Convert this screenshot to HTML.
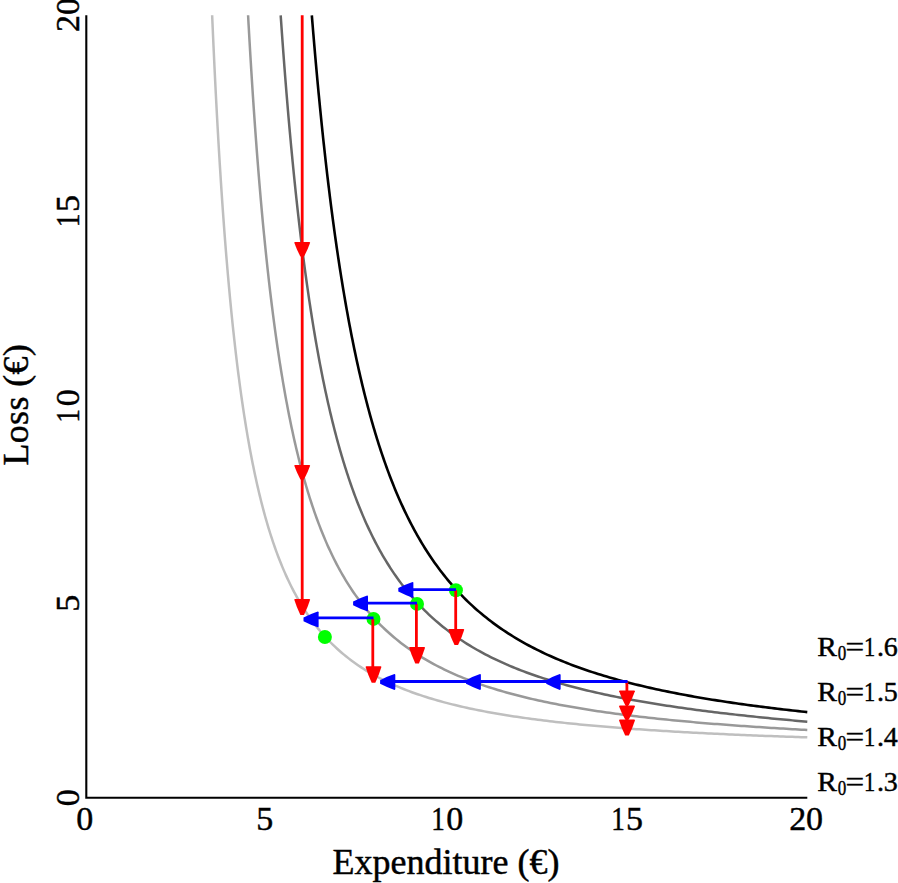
<!DOCTYPE html>
<html><head><meta charset="utf-8"><style>
html,body{margin:0;padding:0;background:#fff;}
body{width:898px;height:883px;overflow:hidden;font-family:"Liberation Serif",serif;}
svg{display:block;}
</style></head><body>
<svg width="898" height="883" viewBox="0 0 898 883">
<rect width="898" height="883" fill="#fff"/>
<polyline points="212.15,15.30 212.27,18.30 212.40,21.30 212.53,24.30 212.66,27.30 212.80,30.30 212.93,33.30 213.06,36.29 213.20,39.29 213.33,42.29 213.47,45.29 213.61,48.29 213.75,51.29 213.89,54.29 214.03,57.29 214.17,60.29 214.31,63.28 214.45,66.28 214.60,69.28 214.74,72.28 214.89,75.28 215.04,78.28 215.19,81.27 215.34,84.27 215.49,87.27 215.64,90.27 215.79,93.27 215.95,96.27 216.10,99.26 216.26,102.26 216.42,105.26 216.58,108.26 216.74,111.26 216.90,114.25 217.06,117.25 217.23,120.25 217.39,123.25 217.56,126.24 217.73,129.24 217.90,132.24 218.07,135.23 218.24,138.23 218.41,141.23 218.59,144.23 218.77,147.22 218.94,150.22 219.12,153.22 219.30,156.21 219.49,159.21 219.67,162.21 219.85,165.20 220.04,168.20 220.23,171.19 220.42,174.19 220.61,177.19 220.80,180.18 221.00,183.18 221.20,186.17 221.39,189.17 221.59,192.16 221.80,195.16 222.00,198.15 222.20,201.15 222.41,204.14 222.62,207.14 222.83,210.13 223.05,213.13 223.26,216.12 223.48,219.12 223.70,222.11 223.92,225.10 224.14,228.10 224.36,231.09 224.59,234.09 224.82,237.08 225.05,240.07 225.29,243.07 225.52,246.06 225.76,249.05 226.00,252.04 226.24,255.03 226.49,258.03 226.74,261.02 226.99,264.01 227.24,267.00 227.50,269.99 227.75,272.98 228.01,275.97 228.28,278.97 228.54,281.96 228.81,284.95 229.08,287.94 229.36,290.92 229.64,293.91 229.92,296.90 230.20,299.89 230.49,302.88 230.78,305.87 231.07,308.86 231.36,311.84 231.66,314.83 231.97,317.82 232.27,320.80 232.58,323.79 232.90,326.77 233.21,329.76 233.53,332.74 233.86,335.73 234.18,338.71 234.52,341.70 234.85,344.68 235.19,347.66 235.54,350.65 235.88,353.63 236.24,356.61 236.59,359.59 236.95,362.57 237.32,365.55 237.69,368.53 238.06,371.51 238.44,374.48 238.83,377.46 239.22,380.44 239.61,383.41 240.01,386.39 240.42,389.36 240.83,392.34 241.24,395.31 241.67,398.28 242.09,401.26 242.53,404.23 242.97,407.20 243.41,410.16 243.86,413.13 244.32,416.10 244.79,419.07 245.26,422.03 245.74,424.99 246.22,427.96 246.71,430.92 247.21,433.88 247.72,436.84 248.24,439.79 248.76,442.75 249.29,445.71 249.83,448.66 250.38,451.61 250.93,454.56 251.50,457.51 252.07,460.46 252.65,463.40 253.25,466.34 253.85,469.28 254.46,472.22 255.09,475.16 255.72,478.09 256.36,481.03 257.02,483.96 257.69,486.88 258.36,489.81 259.05,492.73 259.76,495.65 260.47,498.56 261.20,501.48 261.94,504.38 262.69,507.29 263.46,510.19 264.25,513.09 265.04,515.98 265.86,518.87 266.69,521.76 267.53,524.64 268.39,527.52 269.27,530.39 270.16,533.25 271.08,536.11 272.01,538.97 272.96,541.81 273.93,544.66 274.92,547.49 275.92,550.32 276.95,553.14 278.01,555.95 279.08,558.75 280.18,561.55 281.30,564.33 282.44,567.11 283.61,569.87 284.80,572.63 286.02,575.37 287.26,578.11 288.53,580.82 289.83,583.53 291.16,586.22 292.52,588.90 293.90,591.57 295.32,594.21 296.76,596.84 298.24,599.46 299.75,602.05 301.29,604.63 302.86,607.18 304.47,609.72 306.11,612.23 307.79,614.72 309.50,617.19 311.25,619.63 313.03,622.05 314.84,624.44 316.69,626.80 318.58,629.14 320.50,631.44 322.46,633.72 324.46,635.96 326.49,638.17 328.55,640.35 330.65,642.50 332.79,644.61 334.95,646.69 337.16,648.73 339.39,650.73 341.66,652.70 343.95,654.63 346.28,656.53 348.64,658.38 351.03,660.20 353.45,661.98 355.89,663.73 358.36,665.43 360.86,667.10 363.38,668.73 365.92,670.33 368.49,671.88 371.08,673.40 373.68,674.89 376.31,676.34 378.96,677.75 381.63,679.13 384.31,680.48 387.01,681.79 389.73,683.07 392.46,684.32 395.20,685.53 397.96,686.72 400.73,687.88 403.51,689.00 406.31,690.10 409.11,691.17 411.93,692.21 414.75,693.23 417.59,694.22 420.43,695.19 423.28,696.13 426.14,697.05 429.00,697.94 431.87,698.82 434.75,699.67 437.64,700.50 440.53,701.31 443.42,702.10 446.33,702.87 449.23,703.62 452.14,704.36 455.06,705.07 457.98,705.77 460.90,706.46 463.83,707.12 466.76,707.78 469.69,708.41 472.63,709.03 475.57,709.64 478.51,710.23 481.46,710.81 484.41,711.38 487.36,711.93 490.31,712.48 493.26,713.00 496.22,713.52 499.18,714.03 502.14,714.53 505.10,715.01 508.07,715.49 511.03,715.95 514.00,716.41 516.97,716.85 519.94,717.29 522.91,717.71 525.88,718.13 528.86,718.54 531.83,718.94 534.81,719.34 537.79,719.72 540.76,720.10 543.74,720.47 546.72,720.84 549.70,721.19 552.69,721.54 555.67,721.89 558.65,722.22 561.63,722.55 564.62,722.88 567.60,723.19 570.59,723.51 573.58,723.81 576.56,724.11 579.55,724.41 582.54,724.70 585.53,724.98 588.52,725.26 591.51,725.54 594.50,725.81 597.49,726.08 600.48,726.34 603.47,726.59 606.46,726.84 609.45,727.09 612.44,727.34 615.44,727.58 618.43,727.81 621.42,728.04 624.41,728.27 627.41,728.49 630.40,728.72 633.40,728.93 636.39,729.15 639.39,729.36 642.38,729.56 645.38,729.77 648.37,729.97 651.37,730.16 654.36,730.36 657.36,730.55 660.35,730.74 663.35,730.92 666.35,731.11 669.34,731.29 672.34,731.46 675.34,731.64 678.33,731.81 681.33,731.98 684.33,732.15 687.33,732.31 690.32,732.47 693.32,732.63 696.32,732.79 699.32,732.95 702.32,733.10 705.31,733.25 708.31,733.40 711.31,733.55 714.31,733.69 717.31,733.84 720.31,733.98 723.31,734.12 726.31,734.25 729.30,734.39 732.30,734.52 735.30,734.65 738.30,734.78 741.30,734.91 744.30,735.04 747.30,735.17 750.30,735.29 753.30,735.41 756.30,735.53 759.30,735.65 762.30,735.77 765.30,735.88 768.30,736.00 771.30,736.11 774.30,736.22 777.30,736.33 780.30,736.44 783.30,736.55 786.30,736.66 789.30,736.76 792.30,736.86 795.30,736.97 798.30,737.07 801.30,737.17 804.30,737.27 807.30,737.36" fill="none" stroke="#bfbfbf" stroke-width="2.5" stroke-linejoin="round"/>
<polyline points="248.08,15.30 248.25,18.30 248.41,21.31 248.58,24.31 248.75,27.31 248.92,30.31 249.09,33.32 249.26,36.32 249.43,39.32 249.61,42.32 249.78,45.33 249.96,48.33 250.13,51.33 250.31,54.33 250.49,57.34 250.67,60.34 250.86,63.34 251.04,66.34 251.22,69.34 251.41,72.34 251.60,75.35 251.79,78.35 251.98,81.35 252.17,84.35 252.36,87.35 252.56,90.35 252.75,93.35 252.95,96.35 253.15,99.35 253.35,102.36 253.55,105.36 253.76,108.36 253.96,111.36 254.17,114.36 254.38,117.36 254.59,120.36 254.80,123.36 255.01,126.36 255.23,129.36 255.44,132.36 255.66,135.36 255.88,138.36 256.11,141.35 256.33,144.35 256.55,147.35 256.78,150.35 257.01,153.35 257.24,156.35 257.48,159.35 257.71,162.35 257.95,165.34 258.19,168.34 258.43,171.34 258.67,174.34 258.92,177.33 259.16,180.33 259.41,183.33 259.67,186.33 259.92,189.32 260.18,192.32 260.43,195.31 260.69,198.31 260.96,201.31 261.22,204.30 261.49,207.30 261.76,210.29 262.03,213.29 262.31,216.28 262.58,219.28 262.86,222.27 263.15,225.27 263.43,228.26 263.72,231.25 264.01,234.25 264.31,237.24 264.60,240.23 264.90,243.23 265.20,246.22 265.51,249.21 265.82,252.20 266.13,255.19 266.44,258.18 266.76,261.17 267.08,264.16 267.40,267.15 267.73,270.14 268.06,273.13 268.39,276.12 268.73,279.11 269.07,282.10 269.41,285.09 269.76,288.07 270.11,291.06 270.47,294.05 270.83,297.03 271.19,300.02 271.55,303.00 271.93,305.99 272.30,308.97 272.68,311.96 273.06,314.94 273.45,317.92 273.84,320.90 274.24,323.88 274.64,326.86 275.04,329.84 275.45,332.82 275.87,335.80 276.28,338.78 276.71,341.76 277.14,344.73 277.57,347.71 278.01,350.69 278.46,353.66 278.91,356.63 279.36,359.61 279.82,362.58 280.29,365.55 280.76,368.52 281.24,371.49 281.73,374.46 282.22,377.42 282.71,380.39 283.22,383.35 283.73,386.32 284.25,389.28 284.77,392.24 285.30,395.20 285.84,398.16 286.38,401.12 286.94,404.08 287.50,407.03 288.06,409.98 288.64,412.94 289.22,415.89 289.81,418.83 290.41,421.78 291.02,424.73 291.64,427.67 292.27,430.61 292.90,433.55 293.55,436.49 294.20,439.42 294.86,442.36 295.54,445.29 296.22,448.22 296.92,451.14 297.62,454.07 298.34,456.99 299.07,459.91 299.81,462.82 300.56,465.73 301.32,468.64 302.09,471.55 302.88,474.45 303.68,477.35 304.49,480.25 305.32,483.14 306.16,486.02 307.01,488.91 307.88,491.79 308.76,494.66 309.66,497.53 310.58,500.40 311.51,503.26 312.45,506.11 313.41,508.96 314.39,511.81 315.39,514.64 316.40,517.48 317.43,520.30 318.48,523.12 319.55,525.93 320.64,528.73 321.75,531.53 322.88,534.32 324.03,537.10 325.20,539.87 326.39,542.63 327.60,545.38 328.84,548.12 330.10,550.85 331.38,553.57 332.69,556.28 334.02,558.98 335.38,561.66 336.76,564.33 338.17,566.99 339.60,569.63 341.06,572.26 342.55,574.87 344.07,577.47 345.61,580.05 347.18,582.62 348.78,585.16 350.41,587.69 352.07,590.20 353.76,592.69 355.48,595.16 357.23,597.60 359.01,600.03 360.82,602.43 362.66,604.81 364.53,607.16 366.43,609.49 368.36,611.79 370.33,614.07 372.32,616.32 374.35,618.55 376.40,620.74 378.49,622.91 380.60,625.05 382.75,627.15 384.92,629.23 387.13,631.28 389.36,633.29 391.62,635.28 393.90,637.23 396.22,639.15 398.56,641.04 400.92,642.90 403.32,644.72 405.73,646.51 408.17,648.27 410.63,650.00 413.12,651.69 415.62,653.35 418.15,654.98 420.70,656.58 423.27,658.15 425.86,659.68 428.46,661.18 431.08,662.66 433.72,664.10 436.38,665.51 439.05,666.89 441.73,668.24 444.43,669.57 447.15,670.86 449.88,672.13 452.61,673.37 455.37,674.59 458.13,675.78 460.90,676.94 463.69,678.07 466.48,679.19 469.29,680.27 472.10,681.34 474.92,682.38 477.75,683.40 480.59,684.39 483.43,685.37 486.28,686.32 489.14,687.26 492.01,688.17 494.88,689.06 497.76,689.94 500.64,690.79 503.53,691.63 506.42,692.45 509.32,693.26 512.22,694.04 515.13,694.81 518.04,695.57 520.96,696.30 523.88,697.03 526.80,697.74 529.73,698.43 532.65,699.11 535.59,699.78 538.52,700.43 541.46,701.07 544.40,701.70 547.35,702.31 550.29,702.91 553.24,703.51 556.19,704.09 559.15,704.65 562.10,705.21 565.06,705.76 568.02,706.30 570.98,706.82 573.94,707.34 576.91,707.85 579.87,708.35 582.84,708.83 585.81,709.31 588.78,709.79 591.75,710.25 594.72,710.70 597.70,711.15 600.67,711.59 603.65,712.02 606.63,712.44 609.60,712.86 612.58,713.27 615.56,713.67 618.55,714.06 621.53,714.45 624.51,714.84 627.49,715.21 630.48,715.58 633.46,715.94 636.45,716.30 639.44,716.65 642.43,717.00 645.41,717.34 648.40,717.67 651.39,718.00 654.38,718.33 657.37,718.65 660.36,718.96 663.35,719.27 666.35,719.58 669.34,719.88 672.33,720.17 675.32,720.46 678.32,720.75 681.31,721.03 684.31,721.31 687.30,721.58 690.30,721.85 693.29,722.12 696.29,722.38 699.28,722.64 702.28,722.90 705.28,723.15 708.28,723.39 711.27,723.64 714.27,723.88 717.27,724.12 720.27,724.35 723.27,724.58 726.26,724.81 729.26,725.03 732.26,725.26 735.26,725.47 738.26,725.69 741.26,725.90 744.26,726.11 747.26,726.32 750.26,726.52 753.26,726.73 756.26,726.93 759.27,727.12 762.27,727.32 765.27,727.51 768.27,727.70 771.27,727.89 774.27,728.07 777.27,728.25 780.28,728.43 783.28,728.61 786.28,728.79 789.28,728.96 792.29,729.13 795.29,729.30 798.29,729.47 801.29,729.63 804.30,729.80 807.30,729.96" fill="none" stroke="#999999" stroke-width="2.5" stroke-linejoin="round"/>
<polyline points="280.68,15.30 280.89,18.30 281.10,21.30 281.31,24.30 281.52,27.30 281.73,30.31 281.94,33.31 282.16,36.31 282.37,39.31 282.59,42.31 282.81,45.31 283.03,48.31 283.25,51.31 283.48,54.31 283.70,57.31 283.93,60.31 284.15,63.31 284.38,66.31 284.62,69.31 284.85,72.31 285.08,75.31 285.32,78.31 285.56,81.31 285.80,84.30 286.04,87.30 286.28,90.30 286.52,93.30 286.77,96.30 287.02,99.30 287.27,102.29 287.52,105.29 287.77,108.29 288.03,111.29 288.28,114.29 288.54,117.28 288.80,120.28 289.07,123.28 289.33,126.27 289.60,129.27 289.87,132.27 290.14,135.26 290.41,138.26 290.69,141.25 290.96,144.25 291.24,147.25 291.53,150.24 291.81,153.24 292.10,156.23 292.38,159.23 292.67,162.22 292.97,165.21 293.26,168.21 293.56,171.20 293.86,174.19 294.16,177.19 294.47,180.18 294.78,183.17 295.09,186.17 295.40,189.16 295.71,192.15 296.03,195.14 296.35,198.13 296.68,201.12 297.00,204.11 297.33,207.10 297.66,210.09 298.00,213.08 298.34,216.07 298.68,219.06 299.02,222.05 299.37,225.04 299.72,228.03 300.07,231.02 300.43,234.00 300.78,236.99 301.15,239.98 301.51,242.96 301.88,245.95 302.26,248.93 302.63,251.92 303.01,254.90 303.39,257.89 303.78,260.87 304.17,263.85 304.57,266.84 304.97,269.82 305.37,272.80 305.77,275.78 306.18,278.76 306.60,281.74 307.02,284.72 307.44,287.70 307.87,290.68 308.30,293.65 308.73,296.63 309.17,299.61 309.62,302.58 310.07,305.56 310.52,308.53 310.98,311.50 311.45,314.48 311.91,317.45 312.39,320.42 312.87,323.39 313.35,326.36 313.84,329.33 314.33,332.29 314.83,335.26 315.34,338.22 315.85,341.19 316.37,344.15 316.89,347.12 317.42,350.08 317.96,353.04 318.50,356.00 319.05,358.95 319.60,361.91 320.16,364.87 320.73,367.82 321.30,370.77 321.89,373.73 322.47,376.68 323.07,379.63 323.67,382.57 324.28,385.52 324.90,388.46 325.53,391.41 326.16,394.35 326.80,397.29 327.46,400.22 328.11,403.16 328.78,406.09 329.46,409.02 330.14,411.95 330.84,414.88 331.54,417.80 332.25,420.73 332.98,423.65 333.71,426.57 334.45,429.48 335.20,432.39 335.97,435.30 336.74,438.21 337.53,441.11 338.32,444.02 339.13,446.91 339.95,449.81 340.78,452.70 341.63,455.59 342.48,458.47 343.35,461.35 344.23,464.23 345.13,467.10 346.04,469.97 346.96,472.83 347.90,475.69 348.85,478.54 349.81,481.39 350.79,484.24 351.79,487.08 352.80,489.91 353.83,492.74 354.87,495.56 355.93,498.37 357.01,501.18 358.11,503.98 359.22,506.78 360.35,509.57 361.50,512.35 362.67,515.12 363.86,517.88 365.07,520.64 366.29,523.39 367.54,526.12 368.81,528.85 370.10,531.57 371.41,534.28 372.75,536.97 374.10,539.66 375.48,542.33 376.88,544.99 378.31,547.64 379.76,550.28 381.23,552.90 382.73,555.51 384.25,558.10 385.80,560.68 387.38,563.25 388.98,565.79 390.60,568.33 392.26,570.84 393.94,573.33 395.64,575.81 397.38,578.27 399.14,580.71 400.93,583.13 402.75,585.52 404.59,587.90 406.46,590.25 408.36,592.59 410.29,594.90 412.25,597.18 414.24,599.44 416.25,601.68 418.29,603.89 420.36,606.07 422.45,608.23 424.58,610.36 426.73,612.47 428.90,614.54 431.11,616.59 433.33,618.61 435.59,620.60 437.87,622.57 440.17,624.50 442.50,626.41 444.85,628.28 447.23,630.13 449.63,631.94 452.05,633.73 454.49,635.49 456.95,637.21 459.44,638.91 461.94,640.58 464.47,642.22 467.01,643.83 469.57,645.41 472.15,646.96 474.74,648.48 477.35,649.97 479.98,651.44 482.62,652.88 485.28,654.29 487.95,655.67 490.63,657.03 493.33,658.36 496.04,659.67 498.76,660.95 501.50,662.21 504.24,663.44 507.00,664.64 509.76,665.83 512.54,666.99 515.32,668.12 518.12,669.24 520.92,670.33 523.73,671.40 526.55,672.46 529.38,673.49 532.21,674.50 535.05,675.49 537.90,676.46 540.75,677.41 543.61,678.35 546.48,679.26 549.35,680.16 552.22,681.04 555.11,681.91 557.99,682.76 560.88,683.59 563.78,684.41 566.68,685.21 569.58,686.00 572.49,686.77 575.40,687.53 578.31,688.28 581.23,689.01 584.15,689.73 587.08,690.44 590.00,691.13 592.93,691.81 595.87,692.48 598.80,693.14 601.74,693.79 604.68,694.42 607.62,695.05 610.57,695.67 613.52,696.27 616.46,696.86 619.42,697.45 622.37,698.03 625.32,698.59 628.28,699.15 631.24,699.70 634.20,700.24 637.16,700.77 640.12,701.29 643.08,701.80 646.05,702.31 649.02,702.81 651.98,703.30 654.95,703.79 657.92,704.26 660.90,704.73 663.87,705.20 666.84,705.65 669.82,706.11 672.79,706.55 675.77,706.99 678.75,707.42 681.72,707.84 684.70,708.26 687.68,708.68 690.66,709.09 693.64,709.49 696.63,709.89 699.61,710.28 702.59,710.67 705.58,711.05 708.56,711.43 711.55,711.80 714.53,712.17 717.52,712.53 720.51,712.89 723.49,713.24 726.48,713.59 729.47,713.94 732.46,714.28 735.45,714.62 738.44,714.95 741.43,715.28 744.42,715.61 747.41,715.93 750.40,716.25 753.39,716.57 756.39,716.88 759.38,717.19 762.37,717.49 765.36,717.79 768.36,718.09 771.35,718.39 774.35,718.68 777.34,718.97 780.34,719.25 783.33,719.54 786.33,719.82 789.32,720.09 792.32,720.37 795.31,720.64 798.31,720.91 801.31,721.18 804.30,721.44 807.30,721.70" fill="none" stroke="#666666" stroke-width="2.5" stroke-linejoin="round"/>
<polyline points="311.83,15.30 312.07,18.29 312.31,21.28 312.55,24.27 312.80,27.26 313.04,30.25 313.29,33.24 313.54,36.23 313.79,39.22 314.04,42.21 314.30,45.20 314.56,48.19 314.81,51.18 315.07,54.17 315.33,57.16 315.60,60.14 315.86,63.13 316.13,66.12 316.40,69.11 316.67,72.10 316.94,75.08 317.21,78.07 317.49,81.06 317.77,84.05 318.05,87.03 318.33,90.02 318.61,93.01 318.90,95.99 319.19,98.98 319.48,101.97 319.77,104.95 320.06,107.94 320.36,110.92 320.66,113.91 320.96,116.89 321.26,119.88 321.56,122.86 321.87,125.85 322.18,128.83 322.49,131.82 322.81,134.80 323.12,137.78 323.44,140.77 323.76,143.75 324.09,146.73 324.41,149.71 324.74,152.70 325.07,155.68 325.40,158.66 325.74,161.64 326.08,164.62 326.42,167.60 326.77,170.58 327.11,173.56 327.46,176.54 327.82,179.52 328.17,182.50 328.53,185.48 328.89,188.46 329.26,191.44 329.62,194.41 329.99,197.39 330.37,200.37 330.74,203.34 331.12,206.32 331.51,209.30 331.89,212.27 332.28,215.25 332.68,218.22 333.07,221.19 333.47,224.17 333.88,227.14 334.28,230.11 334.69,233.08 335.11,236.06 335.52,239.03 335.95,242.00 336.37,244.97 336.80,247.94 337.23,250.91 337.67,253.87 338.11,256.84 338.56,259.81 339.01,262.77 339.46,265.74 339.92,268.70 340.38,271.67 340.85,274.63 341.32,277.60 341.80,280.56 342.28,283.52 342.76,286.48 343.25,289.44 343.75,292.40 344.25,295.36 344.75,298.31 345.26,301.27 345.78,304.23 346.30,307.18 346.82,310.13 347.36,313.09 347.89,316.04 348.44,318.99 348.98,321.94 349.54,324.89 350.10,327.84 350.66,330.78 351.23,333.73 351.81,336.67 352.40,339.61 352.99,342.55 353.59,345.49 354.19,348.43 354.80,351.37 355.42,354.31 356.04,357.24 356.67,360.17 357.31,363.11 357.96,366.04 358.61,368.96 359.27,371.89 359.94,374.81 360.62,377.74 361.31,380.66 362.00,383.58 362.70,386.49 363.41,389.41 364.13,392.32 364.86,395.23 365.60,398.14 366.34,401.05 367.10,403.95 367.86,406.85 368.64,409.75 369.42,412.64 370.22,415.54 371.02,418.43 371.84,421.31 372.66,424.20 373.50,427.08 374.35,429.96 375.21,432.83 376.08,435.70 376.96,438.57 377.85,441.43 378.76,444.29 379.68,447.15 380.61,450.00 381.56,452.85 382.51,455.69 383.49,458.53 384.47,461.37 385.47,464.19 386.48,467.02 387.51,469.84 388.55,472.65 389.61,475.46 390.68,478.26 391.77,481.06 392.87,483.85 393.99,486.63 395.13,489.41 396.28,492.17 397.46,494.94 398.64,497.69 399.85,500.44 401.07,503.18 402.32,505.91 403.58,508.63 404.86,511.34 406.16,514.05 407.48,516.74 408.82,519.43 410.18,522.10 411.56,524.77 412.96,527.42 414.38,530.06 415.82,532.69 417.29,535.31 418.78,537.91 420.29,540.50 421.82,543.08 423.38,545.65 424.96,548.20 426.56,550.73 428.19,553.25 429.84,555.76 431.52,558.25 433.22,560.72 434.94,563.17 436.69,565.61 438.47,568.03 440.27,570.43 442.09,572.81 443.94,575.17 445.82,577.52 447.72,579.84 449.64,582.14 451.60,584.41 453.57,586.67 455.58,588.90 457.60,591.12 459.66,593.30 461.73,595.47 463.84,597.61 465.96,599.72 468.12,601.81 470.29,603.88 472.49,605.92 474.72,607.93 476.96,609.92 479.23,611.88 481.53,613.82 483.84,615.73 486.18,617.61 488.53,619.46 490.91,621.29 493.31,623.09 495.73,624.87 498.17,626.61 500.63,628.33 503.11,630.02 505.60,631.69 508.12,633.33 510.65,634.94 513.19,636.52 515.76,638.08 518.34,639.61 520.93,641.12 523.54,642.60 526.17,644.06 528.80,645.49 531.45,646.89 534.12,648.27 536.80,649.62 539.48,650.96 542.18,652.26 544.90,653.55 547.62,654.81 550.35,656.05 553.09,657.26 555.85,658.45 558.61,659.63 561.38,660.78 564.16,661.91 566.95,663.02 569.74,664.10 572.54,665.17 575.36,666.22 578.17,667.25 581.00,668.27 583.83,669.26 586.66,670.24 589.51,671.19 592.36,672.14 595.21,673.06 598.07,673.97 600.93,674.86 603.80,675.74 606.68,676.60 609.56,677.44 612.44,678.27 615.33,679.09 618.22,679.89 621.11,680.68 624.01,681.45 626.91,682.21 629.82,682.96 632.73,683.70 635.64,684.42 638.55,685.13 641.47,685.83 644.39,686.52 647.31,687.20 650.24,687.86 653.17,688.52 656.10,689.16 659.03,689.79 661.96,690.42 664.90,691.03 667.84,691.63 670.78,692.23 673.72,692.81 676.67,693.39 679.61,693.96 682.56,694.51 685.51,695.06 688.46,695.61 691.41,696.14 694.37,696.66 697.32,697.18 700.28,697.69 703.24,698.20 706.20,698.69 709.16,699.18 712.12,699.66 715.08,700.13 718.04,700.60 721.01,701.06 723.97,701.52 726.94,701.97 729.91,702.41 732.88,702.85 735.84,703.28 738.81,703.70 741.79,704.12 744.76,704.53 747.73,704.94 750.70,705.34 753.68,705.74 756.65,706.13 759.63,706.52 762.60,706.90 765.58,707.28 768.55,707.65 771.53,708.02 774.51,708.39 777.49,708.75 780.47,709.10 783.45,709.45 786.43,709.80 789.41,710.14 792.39,710.48 795.37,710.81 798.35,711.15 801.33,711.47 804.32,711.80 807.30,712.11" fill="none" stroke="#000000" stroke-width="2.6" stroke-linejoin="round"/>
<path d="M86.3 15.3V797.8H807.3" fill="none" stroke="#000" stroke-width="2.1"/>
<g fill="#00ff00">
<circle cx="324.9" cy="637.0" r="7"/>
<circle cx="373.5" cy="618.9" r="7"/>
<circle cx="417.0" cy="603.9" r="7"/>
<circle cx="455.9" cy="590.2" r="7"/>
</g>
<g fill="#f00" stroke="none">
<line x1="302.2" y1="15.3" x2="302.2" y2="608.9" stroke="#f00" stroke-width="2.8"/>
<path d="M294.3,242.8 Q294.3,242.0 295.1,242.0 L309.3,242.0 Q310.1,242.0 310.1,242.8 Q307.9,249.3 304.0,256.6 L300.4,256.6 Q296.5,249.3 294.3,242.8Z"/>
<path d="M294.3,465.8 Q294.3,465.0 295.1,465.0 L309.3,465.0 Q310.1,465.0 310.1,465.8 Q307.9,472.2 304.0,479.4 L300.4,479.4 Q296.5,472.2 294.3,465.8Z"/>
<path d="M294.3,599.8 Q294.3,599.0 295.1,599.0 L309.3,599.0 Q310.1,599.0 310.1,599.8 Q307.9,607.0 304.0,614.9 L300.4,614.9 Q296.5,607.0 294.3,599.8Z"/>
<line x1="372.8" y1="618.9" x2="372.8" y2="676.7" stroke="#f00" stroke-width="2.8"/>
<path d="M365.6,667.1 Q365.6,666.3 366.4,666.3 L380.6,666.3 Q381.4,666.3 381.4,667.1 Q379.2,674.5 375.3,682.7 L371.7,682.7 Q367.8,674.5 365.6,667.1Z"/>
<line x1="416.4" y1="603.9" x2="416.4" y2="657.5" stroke="#f00" stroke-width="2.8"/>
<path d="M409.2,647.8 Q409.2,647.0 410.0,647.0 L424.2,647.0 Q425.0,647.0 425.0,647.8 Q422.8,655.2 418.9,663.5 L415.3,663.5 Q411.4,655.2 409.2,647.8Z"/>
<line x1="455.7" y1="590.2" x2="455.7" y2="639.1" stroke="#f00" stroke-width="2.8"/>
<path d="M448.4,629.7 Q448.4,628.9 449.2,628.9 L463.4,628.9 Q464.2,628.9 464.2,629.7 Q462.0,637.0 458.1,645.1 L454.5,645.1 Q450.6,637.0 448.4,629.7Z"/>
<line x1="626.9" y1="681.5" x2="626.9" y2="729.5" stroke="#f00" stroke-width="2.8"/>
<path d="M619.1,691.3 Q619.1,690.5 619.9,690.5 L634.1,690.5 Q634.9,690.5 634.9,691.3 Q632.7,697.8 628.8,705.0 L625.2,705.0 Q621.3,697.8 619.1,691.3Z"/>
<path d="M619.1,706.4 Q619.1,705.6 619.9,705.6 L634.1,705.6 Q634.9,705.6 634.9,706.4 Q632.7,712.6 628.8,719.6 L625.2,719.6 Q621.3,712.6 619.1,706.4Z"/>
<path d="M619.1,720.4 Q619.1,719.6 619.9,719.6 L634.1,719.6 Q634.9,719.6 634.9,720.4 Q632.7,727.5 628.8,735.5 L625.2,735.5 Q621.3,727.5 619.1,720.4Z"/>
</g>
<g fill="#00f" stroke="none">
<line x1="373.5" y1="617.9" x2="309.5" y2="617.9" stroke="#00f" stroke-width="2.8"/>
<path d="M317.8,611.5 Q318.6,611.5 318.6,612.3 L318.6,626.5 Q318.6,627.3 317.8,627.3 Q311.1,625.1 303.5,621.2 L303.5,617.6 Q311.1,613.7 317.8,611.5Z"/>
<line x1="417.0" y1="603.2" x2="359.1" y2="603.2" stroke="#00f" stroke-width="2.8"/>
<path d="M367.2,595.5 Q368.0,595.5 368.0,596.3 L368.0,610.5 Q368.0,611.3 367.2,611.3 Q360.6,609.1 353.1,605.2 L353.1,601.6 Q360.6,597.7 367.2,595.5Z"/>
<line x1="456.0" y1="589.55" x2="404.3" y2="589.55" stroke="#00f" stroke-width="2.8"/>
<path d="M412.6,581.9 Q413.4,581.9 413.4,582.7 L413.4,596.9 Q413.4,597.7 412.6,597.7 Q405.9,595.5 398.3,591.6 L398.3,588.0 Q405.9,584.1 412.6,581.9Z"/>
<line x1="627.6" y1="681.5" x2="386.1" y2="681.5" stroke="#00f" stroke-width="2.8"/>
<path d="M559.8,674.1 Q560.6,674.1 560.6,674.9 L560.6,689.1 Q560.6,689.9 559.8,689.9 Q553.4,687.7 546.2,683.8 L546.2,680.2 Q553.4,676.3 559.8,674.1Z"/>
<path d="M480.1,674.1 Q480.9,674.1 480.9,674.9 L480.9,689.1 Q480.9,689.9 480.1,689.9 Q473.4,687.7 466.0,683.8 L466.0,680.2 Q473.4,676.3 480.1,674.1Z"/>
<path d="M394.5,674.1 Q395.3,674.1 395.3,674.9 L395.3,689.1 Q395.3,689.9 394.5,689.9 Q387.7,687.7 380.1,683.8 L380.1,680.2 Q387.7,676.3 394.5,674.1Z"/>
</g>
<g font-family="Liberation Serif" font-size="34" fill="#000" stroke="#000" stroke-width="0.45">
<text transform="translate(84.85,830.3)" x="-8.50">0</text>
<text transform="translate(264.95,830.3)" x="-8.82">5</text>
<text transform="translate(438.40,830.3) scale(0.8,1)" x="-8.97">1</text>
<text transform="translate(454.80,830.3)" x="-8.50">0</text>
<text transform="translate(618.50,830.3) scale(0.8,1)" x="-8.97">1</text>
<text transform="translate(634.90,830.3)" x="-8.82">5</text>
<text transform="translate(797.50,830.3)" x="-8.31">2</text>
<text transform="translate(814.50,830.3)" x="-8.50">0</text>
<text transform="translate(79.3,797.80) rotate(-90)" x="-8.50">0</text>
<text transform="translate(79.3,602.90) rotate(-90)" x="-8.82">5</text>
<text transform="translate(79.3,415.50) rotate(-90) scale(0.8,1)" x="-8.97">1</text>
<text transform="translate(79.3,397.85) rotate(-90)" x="-8.50">0</text>
<text transform="translate(79.3,220.00) rotate(-90) scale(0.8,1)" x="-8.97">1</text>
<text transform="translate(79.3,203.10) rotate(-90)" x="-8.82">5</text>
<text transform="translate(79.3,23.80) rotate(-90)" x="-8.31">2</text>
<text transform="translate(79.3,6.40) rotate(-90)" x="-8.50">0</text>
</g>
<g font-family="Liberation Serif" font-size="36" fill="#000" stroke="#000" stroke-width="0.45">
<text x="332.5" y="873.6">Expenditure (€)</text>
<text transform="translate(27.9,465.6) rotate(-90)" x="0" y="0" letter-spacing="0.35">Loss (€)</text>
</g>
<g font-family="Liberation Serif" font-size="28" fill="#000" stroke="#000" stroke-width="0.45">
<text transform="translate(827.50,655.70) scale(1.05,1)" x="-9.72">R</text>
<text transform="translate(841.90,660.00) scale(0.85,1)" x="-5.00" font-size="20">0</text>
<text transform="translate(854.90,655.70) scale(1.18,1)" x="-7.91">=</text>
<text transform="translate(869.90,655.70) scale(0.8,1)" x="-7.39">1</text>
<text transform="translate(880.40,655.70)" x="-3.50">.</text>
<text transform="translate(890.90,655.70)" x="-7.18">6</text>
<text transform="translate(827.50,700.70) scale(1.05,1)" x="-9.72">R</text>
<text transform="translate(841.90,705.00) scale(0.85,1)" x="-5.00" font-size="20">0</text>
<text transform="translate(854.90,700.70) scale(1.18,1)" x="-7.91">=</text>
<text transform="translate(869.90,700.70) scale(0.8,1)" x="-7.39">1</text>
<text transform="translate(880.40,700.70)" x="-3.50">.</text>
<text transform="translate(890.90,700.70)" x="-7.27">5</text>
<text transform="translate(827.50,745.90) scale(1.05,1)" x="-9.72">R</text>
<text transform="translate(841.90,750.20) scale(0.85,1)" x="-5.00" font-size="20">0</text>
<text transform="translate(854.90,745.90) scale(1.18,1)" x="-7.91">=</text>
<text transform="translate(869.90,745.90) scale(0.8,1)" x="-7.39">1</text>
<text transform="translate(880.40,745.90)" x="-3.50">.</text>
<text transform="translate(890.90,745.90)" x="-7.05">4</text>
<text transform="translate(827.50,790.90) scale(1.05,1)" x="-9.72">R</text>
<text transform="translate(841.90,795.20) scale(0.85,1)" x="-5.00" font-size="20">0</text>
<text transform="translate(854.90,790.90) scale(1.18,1)" x="-7.91">=</text>
<text transform="translate(869.90,790.90) scale(0.8,1)" x="-7.39">1</text>
<text transform="translate(880.40,790.90)" x="-3.50">.</text>
<text transform="translate(890.90,790.90)" x="-7.12">3</text>
</g>
</svg>
</body></html>
